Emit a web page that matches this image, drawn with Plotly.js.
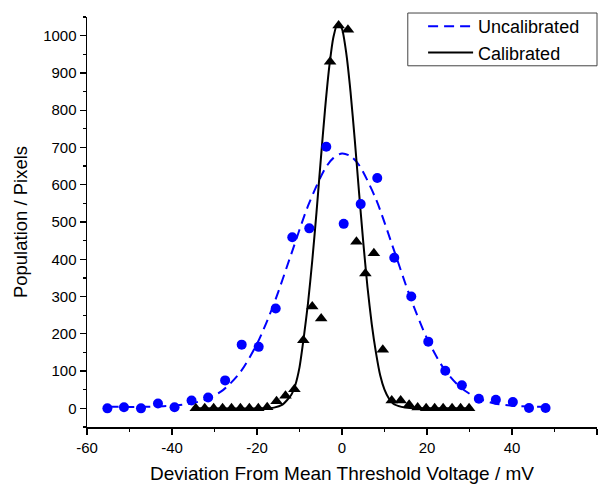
<!DOCTYPE html>
<html>
<head>
<meta charset="utf-8">
<script src="https://cdn.plot.ly/plotly-3.0.1.min.js"></script>
<style>html,body{margin:0;padding:0;background:#fff;}#chart{width:605px;height:487px;}</style>
</head>
<body>
<div id="chart"></div>
<script>
// Uncalibrated measured points (blue circles)
var uncalX = [-55.2,-51.3,-47.3,-43.3,-39.4,-35.4,-31.5,-27.5,-23.6,-19.6,-15.6,-11.7,-7.7,-3.7,0.4,4.4,8.3,12.3,16.3,20.3,24.3,28.2,32.2,36.2,40.2,44.0,47.9];
var uncalY = [0,3,0,13,3,21,29,75,171,165,268,459,483,702,495,548,618,404,300,179,101,62,26,23,17,1,1];

// Uncalibrated fit curve (dashed blue)
var uncalFitX = [-55,-52,-48,-44,-40,-36,-32,-28,-24,-20,-16,-12,-8,-4,-2,0,2,4,8,12,16,20,24,28,32,36,40,44,48];
var uncalFitY = [4,4,4,5,7,12,24,49,96,173,281,412,543,643,672,684,677,653,561,432,300,188,106,55,27,13,7,5,4];

// Calibrated measured points (black triangles)
var calX = [-34.4,-32.3,-30.2,-28.1,-26.0,-23.9,-21.8,-19.7,-17.6,-15.4,-13.3,-11.2,-9.1,-7.0,-4.9,-2.8,-0.8,1.4,3.4,5.5,7.5,9.6,11.7,13.8,15.8,17.8,19.8,21.8,23.8,25.9,27.9,29.9];
var calY = [0,0,0,0,0,0,0,0,3,19,34,51,183,273,241,930,1027,1016,447,362,416,157,21,21,10,2,0,0,0,0,0,0];

// Calibrated fit curve (solid black)
var calFitX = [-34.4,-20,-16,-14,-12,-11,-10,-9,-8,-7,-6,-5,-4,-3,-2,-1,0,1,2,3,4,5,6,7,8,9,10,11,12,14,16,20,29.9];
var calFitY = [0,0,2,10,35,62,110,190,282,396,526,666,801,916,997,1033,1018,953,850,721,581,446,325,226,149,88,50,27,13,4,1,0,0];

var seriesNames = ["Uncalibrated","Calibrated"];

// Tick labels (hyphen-minus as in the reference)
var xTickVals = [-60,-40,-20,0,20,40,60];
var xTickText = ["-60","-40","-20","0","20","40","60"];

var traces = [
  {x: uncalFitX, y: uncalFitY, type: 'scatter', mode: 'lines', name: seriesNames[0],
   line: {color: '#0000ff', width: 2, dash: '10px,6px', shape: 'spline', smoothing: 0.8}},
  {x: calFitX, y: calFitY, type: 'scatter', mode: 'lines', name: seriesNames[1],
   line: {color: '#000000', width: 2, shape: 'spline', smoothing: 0.6}},
  {x: uncalX, y: uncalY, type: 'scatter', mode: 'markers', showlegend: false,
   marker: {symbol: 'circle', size: 10, color: '#0000ff'}},
  {x: calX, y: calY, type: 'scatter', mode: 'markers', showlegend: false,
   marker: {symbol: 'triangle-up', size: 11, color: '#000000'}}
];

var fontFam = 'Liberation Sans, Arial, sans-serif';
var layout = {
  width: 605, height: 487,
  margin: {l: 87, r: 8, t: 14, b: 60, pad: 0},
  paper_bgcolor: '#ffffff', plot_bgcolor: '#ffffff',
  font: {family: fontFam, color: '#000'},
  showlegend: true,
  legend: {x: 0.659, y: 1.022, xanchor: 'left', yanchor: 'top',
    borderwidth: 0, bgcolor: 'rgba(0,0,0,0)',
    font: {family: fontFam, size: 18, color: '#000'},
    itemwidth: 45, tracegroupgap: 0},
  shapes: [
    {type: 'rect', xref: 'paper', yref: 'paper', x0: 0.629, x1: 1.0, y0: 0.881, y1: 1.0097,
     line: {color: '#444', width: 1}, fillcolor: 'rgba(0,0,0,0)', layer: 'above'}
  ],
  xaxis: {
    range: [-60, 60], tickmode: 'array', tickvals: xTickVals, ticktext: xTickText,
    showgrid: false, zeroline: false,
    showline: true, linecolor: '#000', linewidth: 1.5, mirror: false,
    ticks: 'outside', ticklen: 6, tickwidth: 1.3, tickcolor: '#000',
    minor: {dtick: 10, tick0: 0, ticks: 'outside', ticklen: 3, tickwidth: 1.2, tickcolor: '#000', showgrid: false},
    tickfont: {family: fontFam, size: 15, color: '#000'},
    title: {text: 'Deviation From Mean Threshold Voltage / mV', font: {family: fontFam, size: 19, color: '#000'}, standoff: 12}
  },
  yaxis: {
    range: [-50, 1050], dtick: 100, tick0: 0,
    showgrid: false, zeroline: false,
    showline: true, linecolor: '#000', linewidth: 1.5, mirror: false,
    ticks: 'outside', ticklen: 6, tickwidth: 1.3, tickcolor: '#000',
    minor: {dtick: 50, ticks: 'outside', ticklen: 3, tickwidth: 1.2, tickcolor: '#000', showgrid: false},
    tickfont: {family: fontFam, size: 15, color: '#000'},
    title: {text: 'Population / Pixels', font: {family: fontFam, size: 18.5, color: '#000'}, standoff: 10}
  }
};

Plotly.newPlot('chart', traces, layout, {staticPlot: true, displayModeBar: false});
</script>
</body>
</html>
